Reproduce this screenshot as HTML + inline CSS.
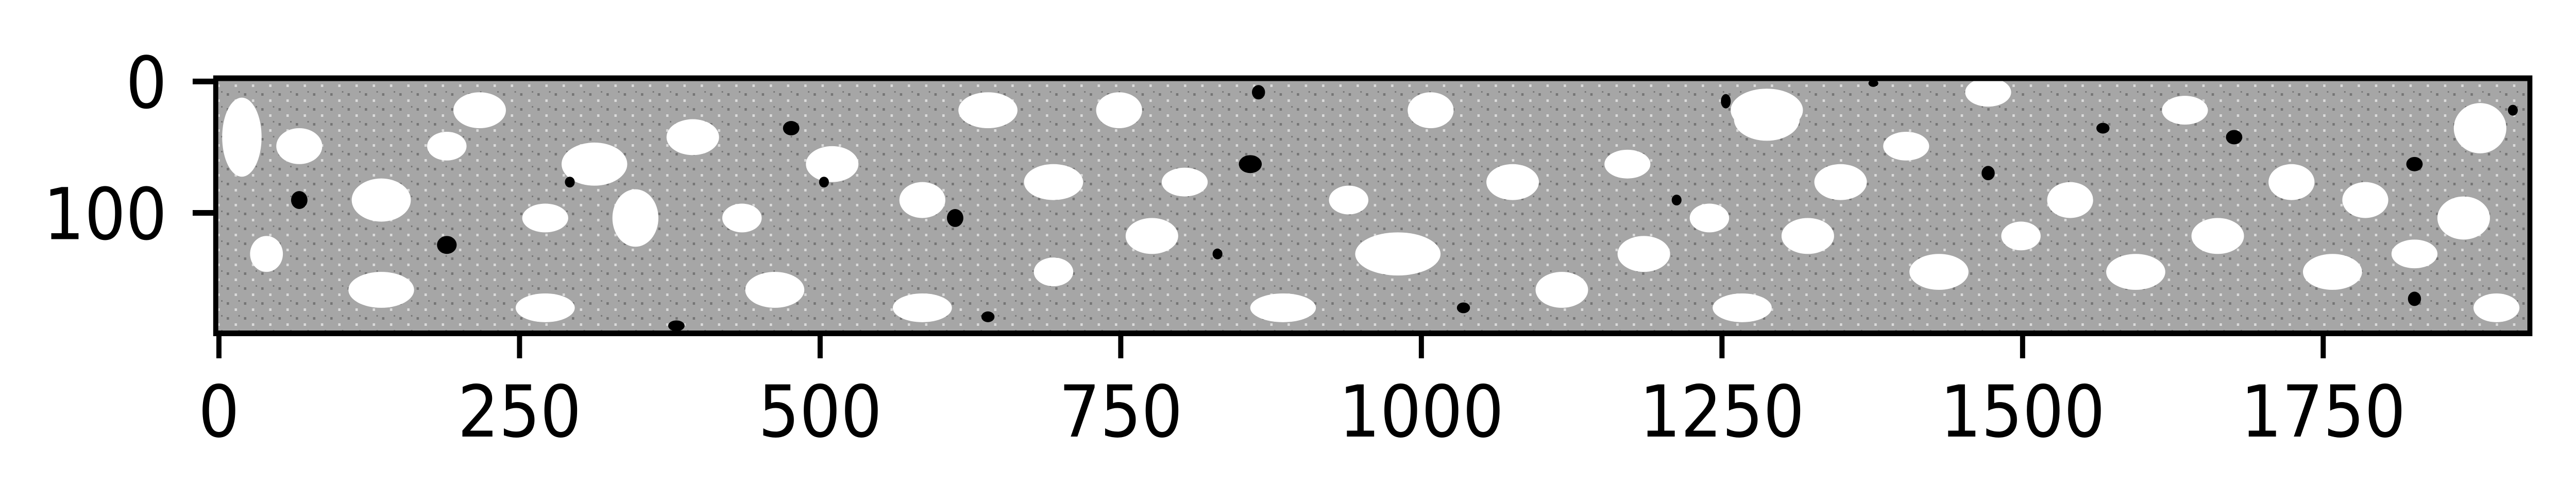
<!DOCTYPE html>
<html><head><meta charset="utf-8"><style>
html,body{margin:0;padding:0;background:#fff;width:100%;height:100%;overflow:hidden;}
svg{display:block;width:100vw;height:100vh;}
text{font-family:"DejaVu Sans","Liberation Sans",sans-serif;font-size:139px;fill:#000;}
</style></head><body>
<svg id="chart" viewBox="0 0 5522 979" preserveAspectRatio="none" xmlns="http://www.w3.org/2000/svg">
<defs>
<clipPath id="clip"><rect x="468" y="157" width="4949" height="485"/></clipPath>
<pattern id="speck" width="37" height="29" patternUnits="userSpaceOnUse">
<rect x="5" y="7" width="5" height="5" fill="#555"/><rect x="22" y="19" width="5" height="5" fill="#fff"/><rect x="30" y="3" width="3" height="3" fill="#555"/>
</pattern>
</defs>
<g id="img" clip-path="url(#clip)">
<rect x="468" y="157" width="4949" height="485" fill="#a6a6a6"/>
<rect x="468" y="157" width="4949" height="485" fill="url(#speck)" opacity="0.6"/>
</g>
<g id="axes"></g>
</svg>
<script>
const xTicks = [0,250,500,750,1000,1250,1500,1750];
const yTicks = [0,100];
const imgW = 1920, imgH = 190;
// pore (white) regions in thumbnail coords [x, y, rx, ry]
const whiteBlobs = [[145,75,12,22],[180,80,14,10],[230,110,18,12],[230,160,20,10],[290,60,16,10],[330,170,18,8],[360,90,20,12],[385,120,14,16],[420,75,16,10],[470,160,18,10],[505,90,16,10],[560,170,18,8],[600,60,18,10],[640,100,18,10],[680,60,14,10],[700,130,16,10],[780,170,20,8],[850,140,26,12],[870,60,14,10],[920,100,16,10],[950,160,16,10],[1000,140,16,10],[1060,170,18,8],[1075,65,20,12],[1100,130,16,10],[1120,100,16,10],[1180,150,18,10],[1210,50,14,8],[1260,110,14,10],[1300,150,18,10],[1350,130,16,10],[1395,100,14,10],[1420,150,18,10],[1440,110,14,10],[1500,120,16,12],[1510,70,16,14],[1075,60,22,12],[330,120,14,8],[560,110,14,10],[720,100,14,8],[990,90,14,8],[1160,80,14,8],[1330,60,14,8],[270,80,12,8],[450,120,12,8],[820,110,12,8],[1040,120,12,8],[1230,130,12,8],[1470,140,14,8],[160,140,10,10],[640,150,12,8],[1520,170,14,8]];
const blackBlobs = [[180,110,5,5],[270,135,6,5],[345,100,3,3],[410,180,5,3],[480,70,5,4],[500,100,3,3],[580,120,5,5],[600,175,4,3],[740,140,3,3],[760,90,7,5],[765,50,4,4],[890,170,4,3],[1020,110,3,3],[1050,55,3,4],[1140,45,3,2],[1210,95,4,4],[1280,70,4,3],[1360,75,5,4],[1470,90,5,4],[1470,165,4,4],[1530,60,3,3]];
const X0=468, Y0=157, PW=4949, PH=485;
function xs(v){return X0 + (v+0.5)*PW/imgW;}
function ys(v){return Y0 + (v+0.5)*PH/imgH;}
function tx(t){return (t-131)*imgW/1408;}
function ty(t){return (t-44)*imgH/139;}
const NS="http://www.w3.org/2000/svg";
const img=document.getElementById('img');
whiteBlobs.forEach(b=>{
  const e=document.createElementNS(NS,'ellipse');
  
  
  e.setAttribute('cx',xs(tx(b[0])));e.setAttribute('cy',ys(ty(b[1])));
  e.setAttribute('rx',b[2]*3.52);e.setAttribute('ry',b[3]*3.49);
  e.setAttribute('fill','#fff');img.appendChild(e);
});
blackBlobs.forEach(b=>{
  const e=document.createElementNS(NS,'ellipse');
  
  
  e.setAttribute('cx',xs(tx(b[0])));e.setAttribute('cy',ys(ty(b[1])));
  e.setAttribute('rx',b[2]*3.52);e.setAttribute('ry',b[3]*3.49);
  e.setAttribute('fill','#000');img.appendChild(e);
});
const ax=document.getElementById('axes');
const fr=document.createElementNS(NS,'rect');


fr.setAttribute('x',462.5);fr.setAttribute('y',152);fr.setAttribute('width',4960.5);fr.setAttribute('height',495.5);
fr.setAttribute('fill','none');fr.setAttribute('stroke','#000');fr.setAttribute('stroke-width',11);
ax.appendChild(fr);
xTicks.forEach(v=>{
  const x=xs(v);
  const l=document.createElementNS(NS,'line');
  
  
  l.setAttribute('x1',x);l.setAttribute('x2',x);l.setAttribute('y1',647);l.setAttribute('y2',696);
  l.setAttribute('stroke','#000');l.setAttribute('stroke-width',11);ax.appendChild(l);
  const t=document.createElementNS(NS,'text');
  
  
  t.setAttribute('x',x);t.setAttribute('y',848);t.setAttribute('text-anchor','middle');
  t.textContent=v;ax.appendChild(t);
});
yTicks.forEach(v=>{
  const y=ys(v);
  const l=document.createElementNS(NS,'line');
  
  
  l.setAttribute('x1',413);l.setAttribute('x2',463);l.setAttribute('y1',y);l.setAttribute('y2',y);
  l.setAttribute('stroke','#000');l.setAttribute('stroke-width',11);ax.appendChild(l);
  const t=document.createElementNS(NS,'text');
  
  
  t.setAttribute('x',358);t.setAttribute('y',y+51);t.setAttribute('text-anchor','end');
  t.textContent=v;ax.appendChild(t);
});
</script>
</body></html>
